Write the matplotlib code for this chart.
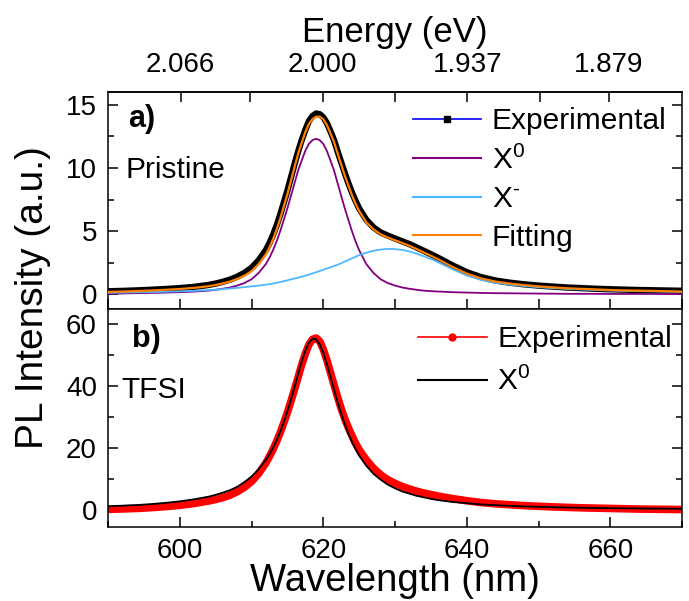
import matplotlib
matplotlib.use('Agg')
import matplotlib.pyplot as plt
from matplotlib.lines import Line2D
from matplotlib.ticker import MultipleLocator, FixedLocator, FormatStrFormatter

plt.rcParams['font.family'] = ['Liberation Sans', 'DejaVu Sans']
plt.rcParams['mathtext.fontset'] = 'custom'
plt.rcParams['mathtext.rm'] = 'Liberation Sans'
plt.rcParams['mathtext.it'] = 'Liberation Sans:italic'
plt.rcParams['mathtext.bf'] = 'Liberation Sans:bold'

# ---------------- data ----------------
wavelength = [590, 592, 594, 596, 598, 600, 602, 604,
              605, 606, 607, 608, 609, 610, 611,
              612, 612.5, 613, 613.5, 614, 614.5, 615, 615.5, 616, 616.5, 617, 617.5, 618, 618.5,
              619, 619.5, 620, 620.5, 621, 621.5, 622, 622.5, 623, 623.5, 624, 624.5, 625,
              626, 627, 628, 629, 630, 631, 632, 633, 634, 635, 636,
              638, 640, 642, 644, 646, 648, 650, 652, 654, 656, 658, 660, 662, 664, 666, 668, 670]

# panel a) Pristine
pristine_exp = [0.25, 0.28, 0.32, 0.37, 0.43, 0.50, 0.60, 0.75,
                0.86, 1.00, 1.17, 1.40, 1.70, 2.10, 2.70,
                3.50, 4.05, 4.70, 5.45, 6.30, 7.25, 8.20, 9.25, 10.3, 11.3, 12.2, 13.0, 13.7, 14.1,
                14.3, 14.25, 14.0, 13.55, 12.9, 12.2, 11.3, 10.45, 9.60, 8.80, 8.05, 7.40, 6.80,
                5.90, 5.30, 4.90, 4.65, 4.42, 4.20, 3.98, 3.72, 3.45, 3.18, 2.90,
                2.30, 1.76, 1.37, 1.10, 0.93, 0.80, 0.70, 0.62, 0.55, 0.50, 0.45, 0.41, 0.38, 0.35, 0.33, 0.31, 0.29]
pristine_x0 = [0.07, 0.08, 0.10, 0.12, 0.15, 0.18, 0.23, 0.30,
               0.37, 0.45, 0.55, 0.70, 0.90, 1.20, 1.70,
               2.40, 2.90, 3.50, 4.20, 5.00, 5.90, 6.80, 7.80, 8.80, 9.80, 10.6, 11.35, 11.9, 12.2,
               12.3, 12.2, 11.9, 11.35, 10.6, 9.80, 8.80, 7.80, 6.80, 5.90, 5.00, 4.20, 3.50,
               2.40, 1.70, 1.20, 0.90, 0.70, 0.55, 0.45, 0.37, 0.30, 0.26, 0.23,
               0.18, 0.15, 0.12, 0.10, 0.09, 0.08, 0.07, 0.06, 0.05, 0.05, 0.05, 0.04, 0.04, 0.04, 0.04, 0.03, 0.03]
pristine_xm = [0.13, 0.15, 0.17, 0.19, 0.22, 0.25, 0.29, 0.35,
               0.38, 0.42, 0.47, 0.52, 0.58, 0.64, 0.70,
               0.77, 0.81, 0.86, 0.92, 0.98, 1.05, 1.12, 1.19, 1.26, 1.33, 1.40, 1.48, 1.57, 1.66,
               1.75, 1.85, 1.95, 2.05, 2.15, 2.25, 2.35, 2.47, 2.60, 2.72, 2.85, 2.98, 3.10,
               3.30, 3.45, 3.55, 3.60, 3.58, 3.52, 3.40, 3.22, 3.02, 2.80, 2.55,
               2.00, 1.50, 1.15, 0.92, 0.77, 0.66, 0.57, 0.50, 0.44, 0.39, 0.35, 0.31, 0.28, 0.26, 0.24, 0.22, 0.20]
pristine_fit = [0.20, 0.23, 0.27, 0.31, 0.37, 0.43, 0.52, 0.65,
                0.75, 0.87, 1.02, 1.22, 1.48, 1.84, 2.40,
                3.17, 3.71, 4.36, 5.12, 5.98, 6.95, 7.92, 8.99, 10.06, 11.13, 12.0, 12.83, 13.47, 13.86,
                14.05, 14.05, 13.85, 13.40, 12.75, 12.05, 11.15, 10.27, 9.40, 8.62, 7.85, 7.18, 6.60,
                5.70, 5.15, 4.75, 4.50, 4.28, 4.07, 3.85, 3.59, 3.32, 3.06, 2.78,
                2.18, 1.65, 1.27, 1.02, 0.86, 0.74, 0.64, 0.56, 0.49, 0.44, 0.40, 0.35, 0.32, 0.30, 0.28, 0.25, 0.23]

# panel b) TFSI
tfsi_exp = [0.20, 0.35, 0.50, 0.75, 1.10, 1.50, 2.10, 2.90,
            3.40, 4.00, 4.80, 5.90, 7.30, 9.20, 11.8,
            15.2, 17.3, 19.6, 22.2, 25.0, 28.2, 31.5, 35.2, 39.0, 43.0, 47.0, 50.5, 53.5, 55.2,
            55.6, 54.6, 52.0, 48.5, 44.5, 40.5, 36.5, 32.8, 29.5, 26.6, 24.0, 21.6, 19.5,
            16.2, 13.5, 11.4, 9.80, 8.60, 7.60, 6.80, 6.10, 5.50, 5.00, 4.50,
            3.70, 3.00, 2.40, 2.00, 1.70, 1.40, 1.20, 1.00, 0.85, 0.70, 0.60, 0.50, 0.40, 0.30, 0.25, 0.20, 0.15]
tfsi_x0 = [1.20, 1.40, 1.60, 1.90, 2.30, 2.80, 3.45, 4.30,
           4.90, 5.60, 6.40, 7.50, 9.00, 10.8, 13.2,
           16.2, 18.0, 20.1, 22.5, 25.3, 28.4, 31.9, 35.7, 39.8, 44.0, 48.0, 51.5, 54.1, 55.4,
           55.2, 53.6, 50.9, 47.2, 43.2, 39.0, 34.9, 31.2, 27.8, 24.7, 22.0, 19.7, 17.6,
           14.3, 11.7, 9.80, 8.20, 7.00, 6.00, 5.30, 4.60, 4.10, 3.60, 3.20,
           2.60, 2.20, 1.80, 1.56, 1.34, 1.17, 1.03, 0.91, 0.81, 0.73, 0.66, 0.60, 0.54, 0.50, 0.46, 0.42, 0.39]

# axes / tick definitions
x_limits = (590, 670)
energy_ticks = [2.066, 2.000, 1.937, 1.879]
energy_minor = [2.033, 1.968, 1.907]
ylim_a = (-1.15, 16.0)
ylim_b = (-5.5, 65.0)

# ---------------- figure ----------------
fig = plt.figure(figsize=(6.89, 6.01), dpi=100)
L, R = 108 / 689, 682 / 689
ax1 = fig.add_axes([L, 1 - 309 / 601, R - L, 217 / 601])
ax2 = fig.add_axes([L, 1 - 527 / 601, R - L, 218 / 601], sharex=ax1)

PURPLE = '#800080'
LBLUE = '#4DB8FF'
ORANGE = '#FF8000'

ax1.plot(wavelength, pristine_exp, color='black', lw=4.6, solid_capstyle='round',
         solid_joinstyle='round', zorder=2)
ax1.plot(wavelength, pristine_x0, color=PURPLE, lw=1.3, zorder=3)
ax1.plot(wavelength, pristine_xm, color=LBLUE, lw=1.3, zorder=3)
ax1.plot(wavelength, pristine_fit, color=ORANGE, lw=1.6, zorder=4)

ax2.plot(wavelength, tfsi_exp, color='#FF0000', lw=5.5, solid_capstyle='round',
         solid_joinstyle='round', zorder=2)
ax2.plot(wavelength, tfsi_x0, color='black', lw=1.3, zorder=3)

ax1.set_xlim(*x_limits)
ax1.set_ylim(*ylim_a)
ax2.set_ylim(*ylim_b)

for ax in (ax1, ax2):
    for s in ax.spines.values():
        s.set_linewidth(1.1)
    ax.tick_params(which='both', direction='in', width=1.1, labelsize=20,
                   right=True, top=False)
    ax.tick_params(which='major', length=7, pad=8)
    ax.tick_params(which='minor', length=4.5)
    ax.xaxis.set_major_locator(MultipleLocator(20))
    ax.xaxis.set_minor_locator(MultipleLocator(10))

ax1.yaxis.set_major_locator(MultipleLocator(5))
ax1.yaxis.set_minor_locator(MultipleLocator(2.5))
ax2.yaxis.set_major_locator(MultipleLocator(20))
ax2.yaxis.set_minor_locator(MultipleLocator(10))
ax1.tick_params(axis='x', which='minor', length=7)
ax1.tick_params(axis='x', labelbottom=False)
ax2.tick_params(axis='x', pad=8)

# top energy axis
secax = ax1.secondary_xaxis('top', functions=(lambda x: 1239.84 / x, lambda e: 1239.84 / e))
secax.xaxis.set_major_locator(FixedLocator(energy_ticks))
secax.xaxis.set_minor_locator(FixedLocator(energy_minor))
secax.xaxis.set_major_formatter(FormatStrFormatter('%.3f'))
secax.tick_params(which='both', direction='in', width=1.1, labelsize=20, pad=10)
secax.tick_params(which='major', length=7)
secax.tick_params(which='minor', length=7)
secax.spines['top'].set_linewidth(1.1)
secax.set_xlabel('Energy (eV)', fontsize=25, labelpad=7)

ax2.set_xlabel('Wavelength (nm)', fontsize=27.5, labelpad=-1)
fig.text(33 / 689, 0.505, 'PL Intensity (a.u.)', rotation=90, fontsize=28,
         ha='center', va='center')

# panel annotations
ax1.text(0.035, 0.839, 'a)', transform=ax1.transAxes, fontsize=22, fontweight='bold',
         ha='left', va='baseline')
ax1.text(0.030, 0.604, 'Pristine', transform=ax1.transAxes, fontsize=21.5,
         ha='left', va='baseline')
ax2.text(0.041, 0.826, 'b)', transform=ax2.transAxes, fontsize=22, fontweight='bold',
         ha='left', va='baseline')
ax2.text(0.024, 0.590, 'TFSI', transform=ax2.transAxes, fontsize=21.5,
         ha='left', va='baseline')

# legends
h_a = [Line2D([], [], color='#0000FF', lw=1.2, marker='s', ms=4, mfc='black', mec='black'),
       Line2D([], [], color=PURPLE, lw=1.5),
       Line2D([], [], color=LBLUE, lw=1.5),
       Line2D([], [], color=ORANGE, lw=1.5)]
lab_a = ['Experimental', r'X$^{0}$', r'X$^{\text{-}}$', 'Fitting']
ax1.legend(h_a, lab_a, loc='upper left', bbox_to_anchor=(0.531, 0.93), frameon=False,
           fontsize=21.5, handlelength=2.3, handletextpad=0.35, labelspacing=0.35,
           borderpad=0, borderaxespad=0)

h_b = [Line2D([], [], color='#FF0000', lw=1.2, marker='o', ms=5, mfc='#FF0000', mec='#FF0000'),
       Line2D([], [], color='black', lw=1.5)]
lab_b = ['Experimental', r'X$^{0}$']
ax2.legend(h_b, lab_b, loc='upper left', bbox_to_anchor=(0.54, 0.925), frameon=False,
           fontsize=21.5, handlelength=2.3, handletextpad=0.35, labelspacing=0.45,
           borderpad=0, borderaxespad=0)

fig.savefig('out.png', dpi=100)
